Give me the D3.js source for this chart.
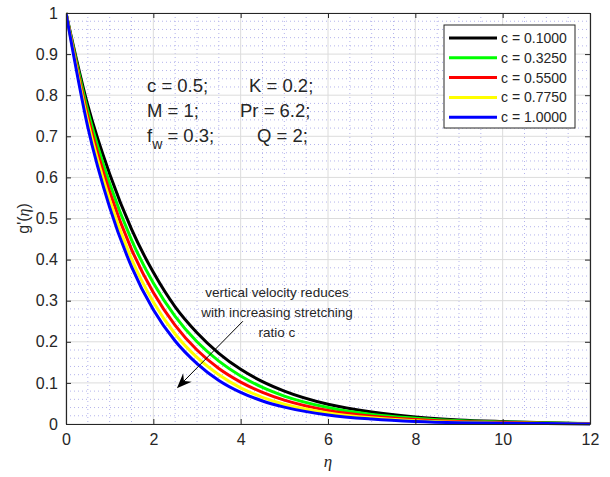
<!DOCTYPE html>
<html>
<head>
<meta charset="utf-8">
<script src="https://cdn.jsdelivr.net/npm/d3@7"></script>
<style>
  body { margin: 0; background: #fff; }
  svg text { font-family: "Liberation Sans", Arial, Helvetica, sans-serif; fill: #262626; }
</style>
</head>
<body>
<div id="chart"></div>
<script>
// readings
var eta = [0, 0.5, 1, 1.5, 2, 2.5, 3, 3.5, 4, 4.5, 5, 6, 7, 8, 9, 10, 11, 12];
var c0100 = [1, 0.775, 0.608, 0.474, 0.369, 0.285, 0.222, 0.172, 0.133, 0.103, 0.080, 0.048, 0.029, 0.017, 0.010, 0.006, 0.003, 0.001];
var c0325 = [1, 0.762, 0.585, 0.448, 0.343, 0.262, 0.200, 0.153, 0.117, 0.089, 0.068, 0.040, 0.023, 0.014, 0.008, 0.005, 0.003, 0.001];
var c0550 = [1, 0.748, 0.565, 0.425, 0.320, 0.240, 0.180, 0.135, 0.102, 0.077, 0.058, 0.033, 0.019, 0.011, 0.006, 0.004, 0.002, 0.001];
var c0775 = [1, 0.735, 0.545, 0.402, 0.297, 0.219, 0.162, 0.120, 0.088, 0.065, 0.048, 0.027, 0.015, 0.008, 0.004, 0.002, 0.001, 0.000];
var c1000 = [1, 0.722, 0.527, 0.383, 0.278, 0.202, 0.147, 0.106, 0.077, 0.056, 0.041, 0.022, 0.012, 0.006, 0.003, 0.002, 0.001, 0.000];

var seriesNames = ["c = 0.1000", "c = 0.3250", "c = 0.5500", "c = 0.7750", "c = 1.0000"];
var seriesColors = ["#000000", "#00ff00", "#ff0000", "#ffff00", "#0000ff"];
var seriesValues = [c0100, c0325, c0550, c0775, c1000];

var xTicks = [0, 2, 4, 6, 8, 10, 12];
var yTicks = [0, 0.1, 0.2, 0.3, 0.4, 0.5, 0.6, 0.7, 0.8, 0.9, 1];

var W = 610, H = 477;
var pL = 66, pR = 590, pT = 13, pB = 424;

var svg = d3.select("#chart").append("svg")
    .attr("width", W).attr("height", H);

var x = d3.scaleLinear().domain([0, 12]).range([pL, pR]);
var y = d3.scaleLinear().domain([0, 1]).range([pB, pT]);

// minor grid (dotted)
var gMinor = svg.append("g");
gMinor.selectAll("line.vx")
    .data(d3.range(1, 24).map(function(i) { return i * 0.5; }).filter(function(v, i) { return (i + 1) % 4 !== 0; }))
    .enter().append("line")
    .attr("x1", d => x(d)).attr("x2", d => x(d))
    .attr("y1", pT).attr("y2", pB)
    .attr("stroke", "#b4b4ec").attr("stroke-width", 1).attr("stroke-dasharray", "1,3");
gMinor.selectAll("line.hy")
    .data(d3.range(1, 50).filter(function(i) { return i % 5 !== 0; }).map(function(i) { return i * 0.02; }))
    .enter().append("line")
    .attr("y1", d => y(d)).attr("y2", d => y(d))
    .attr("x1", pL).attr("x2", pR)
    .attr("stroke", "#b4b4ec").attr("stroke-width", 1).attr("stroke-dasharray", "1,3");

// major grid
var gMajor = svg.append("g");
gMajor.selectAll("line.gx").data(xTicks).enter().append("line")
    .attr("x1", d => x(d)).attr("x2", d => x(d))
    .attr("y1", pT).attr("y2", pB)
    .attr("stroke", "#dcdcdc").attr("stroke-width", 1);
gMajor.selectAll("line.gy").data(yTicks).enter().append("line")
    .attr("y1", d => y(d)).attr("y2", d => y(d))
    .attr("x1", pL).attr("x2", pR)
    .attr("stroke", "#dcdcdc").attr("stroke-width", 1);

// curves
var line = d3.line()
    .x(function(d, i) { return x(eta[i]); })
    .y(function(d) { return y(d); })
    .curve(d3.curveMonotoneX);

svg.append("defs").append("clipPath").attr("id", "clip")
  .append("rect").attr("x", pL).attr("y", pT - 2).attr("width", pR - pL).attr("height", pB - pT + 4);

svg.append("g").attr("clip-path", "url(#clip)")
  .selectAll("path").data(seriesValues).enter().append("path")
    .attr("d", line)
    .attr("fill", "none")
    .attr("stroke", function(d, i) { return seriesColors[i]; })
    .attr("stroke-width", 3)
    .attr("stroke-linejoin", "round");

// axes with inward ticks on all sides
var xb = svg.append("g").attr("transform", "translate(0," + pB + ")")
    .call(d3.axisBottom(x).tickValues(xTicks).tickSizeInner(-5).tickSizeOuter(0).tickPadding(10));
var xt = svg.append("g").attr("transform", "translate(0," + pT + ")")
    .call(d3.axisTop(x).tickValues(xTicks).tickSizeInner(-5).tickSizeOuter(0).tickFormat(""));
var yl = svg.append("g").attr("transform", "translate(" + pL + ",0)")
    .call(d3.axisLeft(y).tickValues(yTicks).tickSizeInner(-5).tickSizeOuter(0).tickPadding(8).tickFormat(d3.format("~g")));
var yr = svg.append("g").attr("transform", "translate(" + pR + ",0)")
    .call(d3.axisRight(y).tickValues(yTicks).tickSizeInner(-5).tickSizeOuter(0).tickFormat(""));

[xb, xt, yl, yr].forEach(function(g) {
  g.select(".domain").attr("stroke", "#262626").attr("stroke-width", 1.2);
  g.selectAll(".tick line").attr("stroke", "#262626");
  g.selectAll(".tick text").attr("font-size", 16).attr("fill", "#262626")
    .style("font-family", "'Liberation Sans', Arial, sans-serif");
});

// axis labels
svg.append("text")
    .attr("x", x(6)).attr("y", 467)
    .attr("text-anchor", "middle")
    .attr("font-size", 17).attr("font-style", "italic")
    .style("font-family", "'Liberation Serif', 'Times New Roman', serif")
    .text("η");

var yLab = svg.append("text")
    .attr("transform", "translate(29," + y(0.5) + ") rotate(-90)")
    .attr("text-anchor", "middle")
    .attr("font-size", 16);
yLab.append("tspan").text("g'(");
yLab.append("tspan").attr("font-style", "italic")
    .style("font-family", "'Liberation Serif', 'Times New Roman', serif").text("η");
yLab.append("tspan").text(")");

// parameter block
var params = svg.append("g").attr("font-size", 18.5);
params.append("text").attr("x", 147).attr("y", 92).text("c = 0.5;");
params.append("text").attr("x", 249).attr("y", 92).text("K = 0.2;");
params.append("text").attr("x", 147).attr("y", 117).text("M = 1;");
params.append("text").attr("x", 240).attr("y", 117).text("Pr = 6.2;");
var fw = params.append("text").attr("x", 147).attr("y", 142);
fw.append("tspan").text("f");
fw.append("tspan").attr("dy", 7).attr("font-size", 14).text("w");
fw.append("tspan").attr("dy", -7).text(" = 0.3;");
params.append("text").attr("x", 257).attr("y", 142).text("Q = 2;");

// annotation with arrow
var note = svg.append("text").attr("font-size", 13.5).attr("text-anchor", "middle");
["vertical velocity reduces", "with increasing stretching", "ratio c"].forEach(function(s, i) {
  note.append("tspan").attr("x", 277).attr("y", 297 + i * 20).text(s);
});

var ax0 = x(4.05), ay0 = y(0.25), ax1 = x(2.54), ay1 = y(0.087);
var ang = Math.atan2(ay1 - ay0, ax1 - ax0);
var hl = 15, hw = 6;
svg.append("line")
    .attr("x1", ax0).attr("y1", ay0)
    .attr("x2", ax1 - Math.cos(ang) * 8).attr("y2", ay1 - Math.sin(ang) * 8)
    .attr("stroke", "#000").attr("stroke-width", 1);
var bx = ax1 - Math.cos(ang) * hl, by = ay1 - Math.sin(ang) * hl;
svg.append("path")
    .attr("d", "M" + ax1 + "," + ay1 +
        "L" + (bx + Math.sin(ang) * hw) + "," + (by - Math.cos(ang) * hw) +
        "L" + (ax1 - Math.cos(ang) * 10) + "," + (ay1 - Math.sin(ang) * 10) +
        "L" + (bx - Math.sin(ang) * hw) + "," + (by + Math.cos(ang) * hw) + "Z")
    .attr("fill", "#000");

// legend
var lg = svg.append("g").attr("transform", "translate(444,25)");
lg.append("rect").attr("width", 131).attr("height", 103)
    .attr("fill", "#fff").attr("stroke", "#262626").attr("stroke-width", 1);
seriesNames.forEach(function(name, i) {
  var yy = 13 + i * 19.8;
  lg.append("line").attr("x1", 5).attr("x2", 53).attr("y1", yy).attr("y2", yy)
    .attr("stroke", seriesColors[i]).attr("stroke-width", 3);
  lg.append("text").attr("x", 57).attr("y", yy + 5).attr("font-size", 14).attr("fill", "#000").text(name);
});
</script>
</body>
</html>
